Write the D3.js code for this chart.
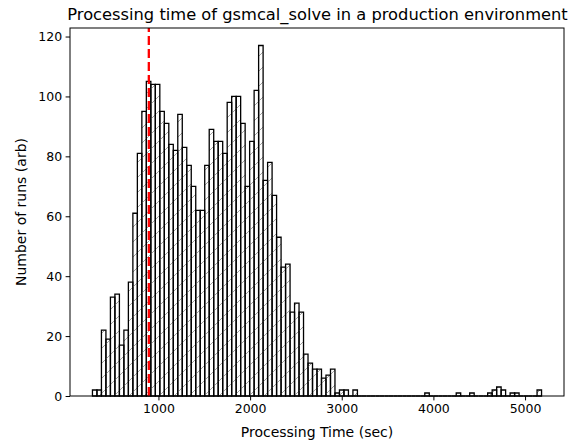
<!DOCTYPE html>
<html><head><meta charset="utf-8">
<script src="https://cdn.jsdelivr.net/npm/d3@7"></script>
<style>body{margin:0;background:#fff} text{font-family:"DejaVu Sans",sans-serif}</style>
</head><body><svg id="c" width="583" height="445"></svg>
<script>
// histogram counts, 100 bins
const counts = [
  2, 2, 22, 19, 33, 34, 17, 22, 38, 61,
  81, 95, 105, 104, 104, 95, 91, 84, 82, 94,
  83, 77, 70, 62, 62, 77, 89, 85, 85, 81,
  98, 100, 100, 91, 70, 85, 102, 117, 72, 78,
  67, 53, 43, 44, 28, 31, 28, 14, 11, 9,
  9, 6, 7, 9, 1, 2, 2, 0, 2, 0,
  0, 0, 0, 0, 0, 0, 0, 0, 0, 0,
  0, 0, 0, 0, 1, 0, 0, 0, 0, 0,
  0, 1, 0, 0, 1, 0, 0, 0, 1, 2,
  3, 2, 0, 1, 1, 0, 0, 0, 0, 2
];
const binStart = 280;
const binWidth = 49;
const xTicks = [1000, 2000, 3000, 4000, 5000];
const yTicks = [0, 20, 40, 60, 80, 100, 120];
const markerValue = 895;
const titleText = "Processing time of gsmcal_solve in a production environment";
const xLabel = "Processing Time (sec)";
const yLabel = "Number of runs (arb)";

const svg = d3.select("#c");
const L = 70, R = 564, T = 28, B = 396;
const binEdges = counts.map((c, i) => binStart + i * binWidth);
const dataMin = binStart, dataMax = binStart + counts.length * binWidth;
const pad = 0.05 * (dataMax - dataMin);
const x = d3.scaleLinear().domain([dataMin - pad, dataMax + pad]).range([L, R]);
const yMax = d3.max(counts) * 1.05;
const y = d3.scaleLinear().domain([0, yMax]).range([B, T]);

const defs = svg.append("defs");
const pat = defs.append("pattern").attr("id", "hatch").attr("patternUnits", "userSpaceOnUse")
  .attr("width", 15).attr("height", 15);
pat.append("path").attr("d", "M0,15 L15,0 M-3,3 L3,-3 M12,18 L18,12")
  .attr("stroke", "#a0a0a0").attr("stroke-width", 1).attr("fill", "none");

const g = svg.append("g");
counts.forEach((c, i) => {
  const x0 = x(binEdges[i]), x1 = x(binEdges[i] + binWidth);
  const y0 = y(0), y1 = y(c);
  g.append("path")
    .attr("d", `M${x0},${y0}V${y1}H${x1}V${y0}Z`)
    .attr("fill", c > 0 ? "url(#hatch)" : "none")
    .attr("stroke", "#000").attr("stroke-width", 1.3)
    .attr("stroke-linejoin", "miter");
});

svg.append("line")
  .attr("x1", x(markerValue)).attr("x2", x(markerValue))
  .attr("y1", B).attr("y2", T)
  .attr("stroke", "#ff0000").attr("stroke-width", 2.3)
  .attr("stroke-dasharray", "9,4");

// axes
const xAxis = svg.append("g").attr("transform", `translate(0,${B})`)
  .call(d3.axisBottom(x).tickValues(xTicks).tickSize(4.4).tickPadding(3.5).tickFormat(d3.format("d")));
const yAxis = svg.append("g").attr("transform", `translate(${L},0)`)
  .call(d3.axisLeft(y).tickValues(yTicks).tickSize(4.4).tickPadding(3.5).tickFormat(d3.format("d")));
[xAxis, yAxis].forEach(a => {
  a.select(".domain").remove();
  a.selectAll("text").attr("font-size", 12.5).attr("fill", "#000").style("font-family", '"DejaVu Sans",sans-serif');
  a.selectAll(".tick line").attr("stroke", "#000").attr("stroke-width", 1);
});

svg.append("rect").attr("x", L).attr("y", T).attr("width", R - L).attr("height", B - T)
  .attr("fill", "none").attr("stroke", "#000").attr("stroke-width", 1);

svg.append("text").attr("x", (L + R) / 2 + 0.5).attr("y", 20).attr("text-anchor", "middle")
  .attr("font-size", 16.3).text(titleText);
svg.append("text").attr("x", (L + R) / 2).attr("y", 437).attr("text-anchor", "middle")
  .attr("font-size", 14).text(xLabel);
svg.append("text").attr("transform", `translate(25.5,${(T + B) / 2}) rotate(-90)`)
  .attr("text-anchor", "middle").attr("font-size", 14).text(yLabel);
</script></body></html>
